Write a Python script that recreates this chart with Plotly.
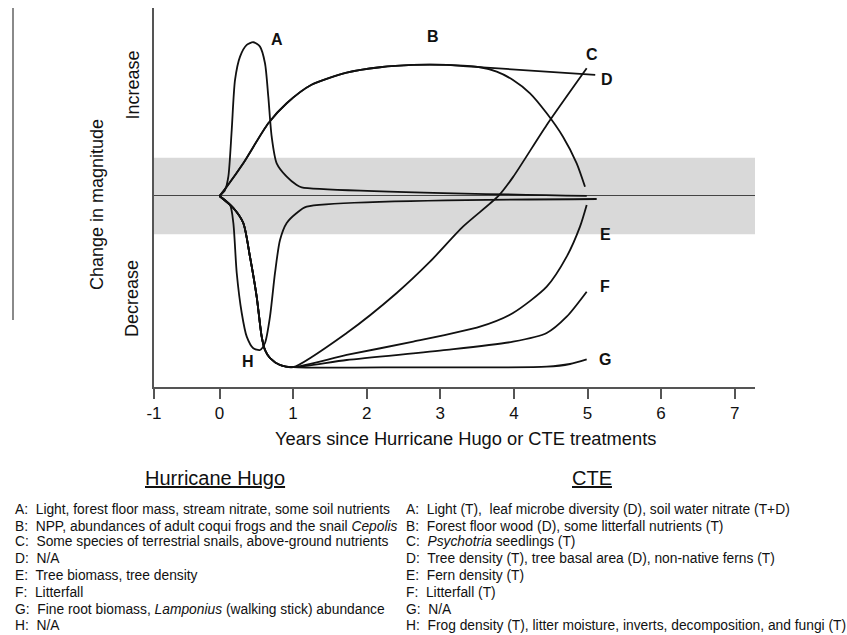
import plotly.graph_objects as go

# ---------------- data (years since disturbance, change in magnitude; grey band = +/-1) -------------
# shared decline phase used by curves C, E, F, G
decline_x = [0, 0.188, 0.323, 0.414, 0.505, 0.573, 0.618, 0.686, 0.822, 1.0]
decline_y = [0, -0.314, -0.707, -1.589, -2.636, -3.683, -4.031, -4.241, -4.424, -4.48]

a_x = [0, 0.075, 0.12, 0.166, 0.211, 0.279, 0.37, 0.459, 0.55, 0.618, 0.663, 0.709, 0.777, 0.913, 1.049, 1.117, 4.99]
a_y = [0, 0.157, 0.505, 1.728, 3.037, 3.647, 3.953, 4.024, 3.908, 3.474, 2.599, 1.552, 0.856, 0.505, 0.288, 0.228, 0.0]

b_x = [0, 0.098, 0.323, 0.663, 0.913, 1.25, 1.728, 2.181, 2.629, 3.087, 3.539, 3.766, 3.988, 4.219, 4.446, 4.667, 4.853, 4.966]
b_y = [0, 0.243, 0.856, 1.903, 2.427, 2.91, 3.228, 3.369, 3.429, 3.429, 3.369, 3.254, 3.037, 2.688, 2.165, 1.552, 0.856, 0.243]

d_x = [0, 0.098, 0.323, 0.663, 0.913, 1.25, 1.728, 2.181, 2.629, 3.087, 3.31, 5.105]
d_y = [0, 0.243, 0.856, 1.903, 2.427, 2.91, 3.228, 3.369, 3.429, 3.429, 3.40, 3.168]

c_rec_x = [1.728, 2.408, 2.86, 3.308, 3.79, 3.99, 4.446, 4.989]
c_rec_y = [-3.586, -2.539, -1.72, -0.804, 0.0, 0.5, 1.859, 3.343]

e_rec_x = [1.728, 2.633, 3.539, 3.988, 4.446, 4.717, 4.898, 4.989]
e_rec_y = [-4.162, -3.814, -3.421, -3.063, -2.374, -1.589, -0.804, -0.236]

f_rec_x = [1.728, 3.087, 3.988, 4.446, 4.717, 4.989]
f_rec_y = [-4.293, -4.031, -3.814, -3.586, -3.16, -2.505]

g_rec_x = [2.629, 4.446, 4.762, 4.989]
g_rec_y = [-4.484, -4.469, -4.398, -4.275]

h_x = [0, 0.143, 0.188, 0.234, 0.302, 0.37, 0.459, 0.55, 0.618, 0.686, 0.754, 0.822, 0.913, 1.049, 1.185, 5.125]
h_y = [0, -0.236, -0.707, -2.016, -3.063, -3.683, -3.987, -4.031, -3.848, -3.16, -2.016, -1.152, -0.707, -0.445, -0.28, -0.079]

curve_letters = ["A", "B", "C", "D", "E", "F", "G", "H"]
label_x = [0.777, 2.901, 5.057, 5.261, 5.238, 5.238, 5.238, 0.391]
label_y = [4.084, 4.17, 3.691, 3.037, -1.021, -2.374, -4.293, -4.338]

tick_vals = [-0.89, 0, 1, 2, 3, 4, 5, 6, 7]
tick_text = ["-1", "0", "1", "2", "3", "4", "5", "6", "7"]

hugo_items = [
    "A:  Light, forest floor mass, stream nitrate, some soil nutrients",
    "B:  NPP, abundances of adult coqui frogs and the snail <i>Cepolis</i>",
    "C:  Some species of terrestrial snails, above-ground nutrients",
    "D:  N/A",
    "E:  Tree biomass, tree density",
    "F:  Litterfall",
    "G:  Fine root biomass, <i>Lamponius</i> (walking stick) abundance",
    "H:  N/A",
]
cte_items = [
    "A:  Light (T),  leaf microbe diversity (D), soil water nitrate (T+D)",
    "B:  Forest floor wood (D), some litterfall nutrients (T)",
    "C:  <i>Psychotria</i> seedlings (T)",
    "D:  Tree density (T), tree basal area (D), non-native ferns (T)",
    "E:  Fern density (T)",
    "F:  Litterfall (T)",
    "G:  N/A",
    "H:  Frog density (T), litter moisture, inverts, decomposition, and fungi (T)",
]

# ---------------- figure -------------
W, H = 847, 635
L, R, T, B = 154, 755, 8, 387


def px_x(px):
    return (px - L) / (R - L)


def px_y(py):
    return (B - py) / (B - T)


FONT = "Arial, Liberation Sans, sans-serif"
fig = go.Figure()

series = [
    (a_x, a_y),
    (b_x, b_y),
    (decline_x + c_rec_x, decline_y + c_rec_y),
    (d_x, d_y),
    (decline_x + e_rec_x, decline_y + e_rec_y),
    (decline_x + f_rec_x, decline_y + f_rec_y),
    (decline_x + g_rec_x, decline_y + g_rec_y),
    (h_x, h_y),
]
for (xs, ys), name in zip(series, curve_letters):
    fig.add_trace(go.Scatter(x=xs, y=ys, mode="lines", name=name,
                             line=dict(color="#111111", width=1.8, shape="spline", smoothing=0.7),
                             showlegend=False, hoverinfo="skip"))

# curve letters
for t, x, y in zip(curve_letters, label_x, label_y):
    fig.add_annotation(x=x, y=y, xref="x", yref="y", text="<b>%s</b>" % t, showarrow=False,
                       xanchor="center", yanchor="middle",
                       font=dict(family=FONT, size=16, color="#111"))

# grey "no change" band
fig.add_shape(type="rect", xref="x domain", yref="y", x0=0, x1=1, y0=-1, y1=1,
              fillcolor="#d9d9d9", line=dict(width=0), layer="below")

# stray grey rule at far left
fig.add_shape(type="line", xref="paper", yref="paper", x0=px_x(13), x1=px_x(13),
              y0=px_y(8), y1=px_y(320), line=dict(color="#8a8a8a", width=2))


def note(text, cx, cy, size, xanchor="center", angle=0):
    fig.add_annotation(x=px_x(cx), y=px_y(cy), xref="paper", yref="paper", text=text,
                       showarrow=False, xanchor=xanchor, yanchor="middle", textangle=angle,
                       font=dict(family=FONT, size=size, color="#111"))


# y-side texts
note("Increase", 132.5, 85, 18, angle=-90)
note("Decrease", 132, 299, 18, angle=-90)
note("Change in magnitude", 97, 205, 18, angle=-90)

# x title
note("Years since Hurricane Hugo or CTE treatments", 465, 438, 18.3)

# column headers
note("<u>Hurricane Hugo</u>", 214.5, 478, 20)
note("<u>CTE</u>", 592, 478, 20)

row_y = [509.3, 526, 541.5, 558, 575.5, 592.5, 609, 625]
for i, ry in enumerate(row_y):
    note(hugo_items[i], 13, ry, 13.8, xanchor="left")
    note(cte_items[i], 404, ry, 13.8, xanchor="left")

x0_data = tick_vals[0]
x1_data = 0 + (R - 219.5) / 73.6
fig.update_layout(
    width=W, height=H,
    margin=dict(l=L, r=W - R, t=T, b=H - B),
    paper_bgcolor="white", plot_bgcolor="white",
    font=dict(family=FONT, color="#111"),
    xaxis=dict(range=[x0_data, x1_data], tickvals=tick_vals, ticktext=tick_text,
               ticks="outside", ticklen=10, tickwidth=1.5, tickcolor="#555",
               showline=True, linecolor="#555", linewidth=1.5, showgrid=False, zeroline=False,
               tickfont=dict(family=FONT, size=17, color="#111")),
    yaxis=dict(range=[-5, 4.92], showline=True, linecolor="#555", linewidth=1.5,
               showticklabels=False, ticks="", showgrid=False,
               zeroline=True, zerolinecolor="#444", zerolinewidth=1),
)

fig.write_html("out.html", config={"displayModeBar": False},
               post_script="document.body.style.margin='0px';")
